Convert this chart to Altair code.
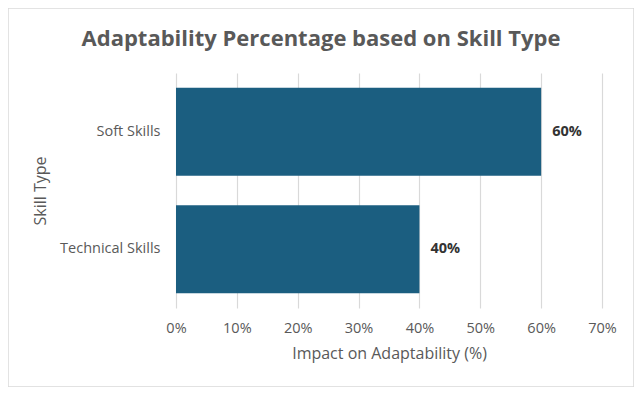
import altair as alt
import pandas as pd

skills = ["Soft Skills", "Technical Skills"]
impact = [0.60, 0.40]
x_ticks = [0, 0.1, 0.2, 0.3, 0.4, 0.5, 0.6, 0.7]
title_text = "Adaptability Percentage based on Skill Type"

df = pd.DataFrame({"Skill Type": skills, "Impact": impact})

W, H = 426, 235
FONT = "Open Sans"

base = alt.Chart(df)

frame = base.mark_rect(fillOpacity=0, stroke="#d9d9d9", strokeWidth=1, clip=False).encode(
    x=alt.value(-168), x2=alt.value(458), y=alt.value(-65), y2=alt.value(314)
)

title = alt.Chart(pd.DataFrame({"t": [title_text]})).mark_text(
    font=FONT, fontSize=22, fontWeight="bold", color="#595959",
    align="center", baseline="middle", clip=False,
).encode(x=alt.value(145), y=alt.value(-34), text="t:N")

bars = base.mark_bar(color="#1b5e80").encode(
    y=alt.Y("Skill Type:N", sort=skills,
            scale=alt.Scale(paddingInner=0.25, paddingOuter=0.125),
            axis=alt.Axis(title="Skill Type", labelPadding=16, ticks=False, domain=False,
                          titleX=-136, titleY=H / 2, titleAngle=-90, titleBaseline="middle",
                          titleAlign="center")),
    x=alt.X("Impact:Q", scale=alt.Scale(domain=[0, 0.7]),
            axis=alt.Axis(title="Impact on Adaptability (%)", format=".0%", values=x_ticks,
                          ticks=False, domain=False, grid=True, labelPadding=13,
                          labelFlush=False, titlePadding=11)),
)

labels = base.mark_text(align="left", baseline="middle", dx=11, fontWeight="bold",
                        fontSize=14.5, color="#333333", font=FONT).encode(
    y=alt.Y("Skill Type:N", sort=skills),
    x="Impact:Q",
    text=alt.Text("Impact:Q", format=".0%"),
)

chart = alt.layer(frame, bars, labels, title).properties(
    width=W, height=H,
    autosize=alt.AutoSizeParams(type="none"),
    padding={"left": 168, "top": 65, "right": 32, "bottom": 79},
).configure_view(stroke=None).configure_axis(
    labelFont=FONT, titleFont=FONT, labelColor="#595959", titleColor="#595959",
    labelFontSize=14.5, titleFontSize=16, titleFontWeight="normal",
    gridColor="#d9d9d9", gridWidth=1.2,
)

chart.save("out.html", embed_options={"renderer": "svg", "actions": False})
